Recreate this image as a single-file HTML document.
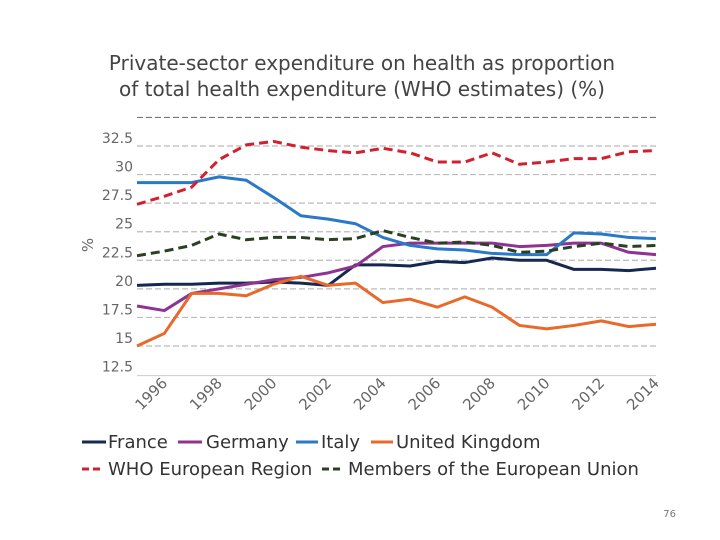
<!DOCTYPE html>
<html><head><meta charset="utf-8"><style>
body{margin:0;background:#fff;}
svg{display:block;font-family:"DejaVu Sans","Liberation Sans",sans-serif;}
</style></head><body>
<svg id="chart" width="720" height="540">
<text x="362" y="70" font-size="20" fill="#444" text-anchor="middle">Private-sector expenditure on health as proportion</text>
<text x="362" y="96" font-size="20" fill="#444" text-anchor="middle">of total health expenditure (WHO estimates) (%)</text>
<text transform="translate(93,245) rotate(-90)" font-size="15" fill="#666" text-anchor="middle">%</text>
<g id="grid"></g><g id="xt"></g><g id="series"></g>
<g id="legend" font-size="18" fill="#333">
<line x1="82" y1="442" x2="106" y2="442" stroke="#142850" stroke-width="3"/><text x="108" y="448">France</text>
<line x1="178" y1="442" x2="202" y2="442" stroke="#8e3393" stroke-width="3"/><text x="206" y="448">Germany</text>
<line x1="296" y1="442" x2="318" y2="442" stroke="#2a78c8" stroke-width="3"/><text x="321" y="448">Italy</text>
<line x1="371" y1="442" x2="393" y2="442" stroke="#e8692a" stroke-width="3"/><text x="396" y="448">United Kingdom</text>
<line x1="82" y1="469" x2="103" y2="469" stroke="#d22030" stroke-width="3" stroke-dasharray="7,4"/><text x="108" y="475">WHO European Region</text>
<line x1="322" y1="469" x2="343" y2="469" stroke="#2a4020" stroke-width="3" stroke-dasharray="7,4"/><text x="348" y="475">Members of the European Union</text>
</g>
<text x="676" y="517" font-size="10" fill="#777" text-anchor="end">76</text>
</svg>
<script>
const years=[1995,1996,1997,1998,1999,2000,2001,2002,2003,2004,2005,2006,2007,2008,2009,2010,2011,2012,2013,2014];
const yTicks=[12.5,15,17.5,20,22.5,25,27.5,30,32.5];
const xTickYears=[1996,1998,2000,2002,2004,2006,2008,2010,2012,2014];
const france=[20.3,20.4,20.4,20.5,20.5,20.6,20.5,20.3,22.1,22.1,22.0,22.4,22.3,22.7,22.5,22.5,21.7,21.7,21.6,21.8];
const germany=[18.5,18.1,19.6,20.0,20.4,20.8,21.0,21.4,22.0,23.7,24.0,24.0,24.0,24.0,23.7,23.8,24.0,24.0,23.2,23.0];
const italy=[29.3,29.3,29.3,29.8,29.5,28.0,26.4,26.1,25.7,24.5,23.8,23.5,23.4,23.1,23.0,23.0,24.9,24.8,24.5,24.4];
const uk=[15.0,16.1,19.6,19.6,19.4,20.4,21.1,20.3,20.5,18.8,19.1,18.4,19.3,18.4,16.8,16.5,16.8,17.2,16.7,16.9];
const who=[27.4,28.1,28.9,31.3,32.6,32.9,32.4,32.1,31.9,32.3,31.9,31.1,31.1,31.9,30.9,31.1,31.4,31.4,32.0,32.1];
const eu=[22.9,23.3,23.8,24.8,24.3,24.5,24.5,24.3,24.4,25.1,24.5,24.0,24.1,23.8,23.2,23.3,23.7,24.0,23.7,23.8];
const NS="http://www.w3.org/2000/svg";
const x=y=>137+(y-1995)*(656-137)/19;
const yv=v=>346-(v-15)*(200/17.5);
function mk(t,a,p){const e=document.createElementNS(NS,t);for(const k in a)e.setAttribute(k,a[k]);p.appendChild(e);return e;}
const g=document.getElementById('grid');
[35].concat(yTicks).forEach(v=>{
  if(v>12.5){const l=mk('line',{x1:137,x2:656,y1:yv(v),y2:yv(v),stroke:v===35?'#777':'#bbb','stroke-width':1.2,'stroke-dasharray':'6,3'},g);
  
  }
  if(v<35){const t=mk('text',{x:133,y:yv(v)-3,'font-size':14,fill:'#666','text-anchor':'end'},g);t.textContent=String(v);
  
  }
});
const ax=mk('line',{x1:137,x2:656,y1:yv(12.5)+1,y2:yv(12.5)+1,stroke:'#ccc','stroke-width':1},g);


const xt=document.getElementById('xt');
xTickYears.forEach(yr=>{
  const t=mk('text',{transform:`translate(${x(yr)+4},${384}) rotate(-45)`,'font-size':15,fill:'#666','text-anchor':'end'},xt);
  t.textContent=String(yr);
  
  
});
const S=document.getElementById('series');
[[france,'#142850',null,'series-france'],[germany,'#8e3393',null,'series-germany'],[italy,'#2a78c8',null,'series-italy'],[uk,'#e8692a',null,'series-united-kingdom'],[who,'#d22030','9,5','series-who-european-region'],[eu,'#2a4020','9,5','series-european-union']].forEach(([d,c,da,n])=>{
  const a={fill:'none',stroke:c,'stroke-width':3,'stroke-linejoin':'round',points:d.map((v,i)=>x(years[i])+','+yv(v)).join(' ')};
  if(da)a['stroke-dasharray']=da;
  const p=mk('polyline',a,S);
  
  
});
</script>
</body></html>
